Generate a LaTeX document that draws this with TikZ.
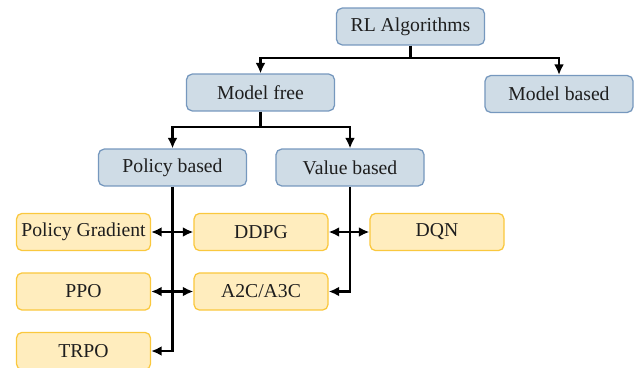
\documentclass[tikz,border=0pt]{standalone}
\usepackage{fontspec}
\setmainfont{Liberation Serif}
\usetikzlibrary{arrows.meta,calc,positioning}

\definecolor{catfill}{RGB}{207,220,230}
\definecolor{catline}{RGB}{118,152,190}
\definecolor{algfill}{RGB}{255,237,190}
\definecolor{algline}{RGB}{250,200,62}
\definecolor{labeltext}{RGB}{30,30,30}

\tikzset{
  catbox/.style={draw=catline, fill=catfill, line width=0.9pt, rounded corners=4pt,
    minimum width=3.7cm, minimum height=0.92cm, text=labeltext,
    font=\fontsize{14}{16}\selectfont},
  algbox/.style={draw=algline, fill=algfill, line width=0.9pt, rounded corners=4pt,
    minimum width=3.35cm, minimum height=0.93cm, text=labeltext,
    font=\fontsize{14}{16}\selectfont},
  link/.style={line width=1.5pt, black},
  arr/.style={link, -{Latex[length=7.5pt,width=7pt]}},
  darr/.style={link, {Latex[length=7.5pt,width=7pt]}-{Latex[length=7.5pt,width=7pt]}}
}

\begin{document}
\begin{tikzpicture}[x=0.025cm, y=-0.025cm]
        \clip (0,0) rectangle (635,367);
        % Kategori
        \node[catbox] (rl) at (410.5,26.5) {RL Algorithms};
        \node[catbox] (mfree) at (260.5,92.5) {Model free};
        \node[catbox] (mbased) at (559,94) {Model based};
        \node[catbox] (policy) at (172.5,167.5) {Policy based};
        \node[catbox] (value) at (350,167.5) {Value based};
        % Algoritma
        \node[algbox] (pg) at (83.5,232) {Policy Gradient};
        \node[algbox] (ddpg) at (261,232) {DDPG};
        \node[algbox] (dqn) at (437,232) {DQN};
        \node[algbox] (ppo) at (83.5,291.5) {PPO};
        \node[algbox] (a2c) at (261,291.5) {A2C/A3C};
        \node[algbox] (trpo) at (83.5,351) {TRPO};
        % Cabang
        \coordinate (rlfork) at (410.5,58);
        \coordinate (mffork) at (260.5,127);
        \draw[link] (rl.south) -- (rlfork);
        \draw[arr] (rlfork) -| (mfree.north);
        \draw[arr] (rlfork) -| (mbased.north);
        \draw[link] (mfree.south) -- (mffork);
        \draw[arr] (mffork) -| (policy.north);
        \draw[arr] (mffork) -| (value.north);
        % Garis ke algoritma
        \draw[arr] (policy.south) |- (trpo.east);
        \draw[arr] (value.south) |- (a2c.east);
        \draw[darr] (pg.east) -- (ddpg.west);
        \draw[darr] (ppo.east) -- (a2c.west);
        \draw[darr] (ddpg.east) -- (dqn.west);
      \end{tikzpicture}
\end{document}
